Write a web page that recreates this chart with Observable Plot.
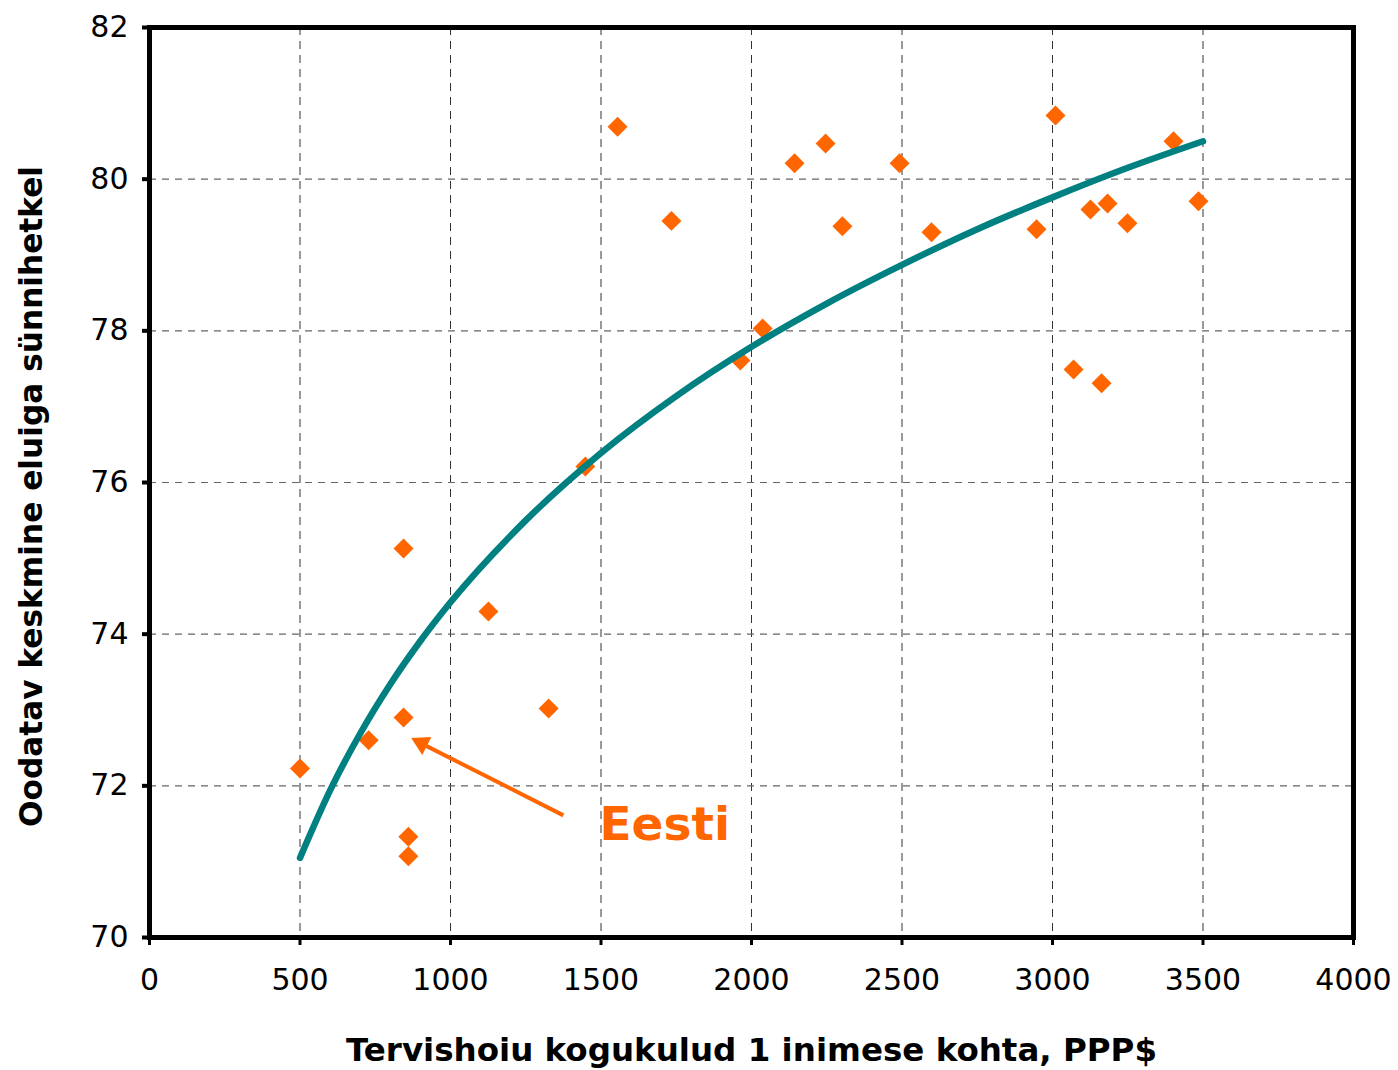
<!DOCTYPE html>
<html>
<head>
<meta charset="utf-8">
<script src="https://cdn.jsdelivr.net/npm/d3@7"></script>
<script src="https://cdn.jsdelivr.net/npm/@observablehq/plot@0.6"></script>
<style>
  html, body { margin: 0; padding: 0; background: #ffffff; }
  #chart svg { display: block; }
</style>
</head>
<body>
<div id="chart"></div>
<script>
// ---- Data ----
// Health expenditure per capita (PPP$) and life expectancy at birth, one entry per country
const spending = [500, 728, 844, 844, 860, 860, 1126, 1326, 1448, 1555, 1734, 1963, 2037, 2143, 2246, 2302, 2492, 2598, 2947, 3010, 3070, 3126, 3163, 3183, 3249, 3402, 3485];
const lifeExpectancy = [72.23, 72.60, 75.13, 72.90, 71.33, 71.07, 74.30, 73.02, 76.21, 80.69, 79.45, 77.61, 78.03, 80.21, 80.47, 79.38, 80.21, 79.30, 79.34, 80.84, 77.49, 79.60, 77.31, 79.68, 79.42, 80.50, 79.71];

// Trend line (logarithmic fit)
const trendSpending = [500, 600, 700, 800, 900, 1000, 1250, 1500, 1750, 2000, 2250, 2500, 2750, 3000, 3250, 3500];
const trendLife     = [71.05, 71.94, 72.69, 73.34, 73.91, 74.42, 75.50, 76.39, 77.14, 77.79, 78.36, 78.87, 79.34, 79.76, 80.15, 80.50];

// Axes
const xTicks = [0, 500, 1000, 1500, 2000, 2500, 3000, 3500, 4000];
const yTicks = [70, 72, 74, 76, 78, 80, 82];
const xGrid = [500, 1000, 1500, 2000, 2500, 3000, 3500];
const yGrid = [72, 74, 76, 78, 80];
const xTitle = "Tervishoiu kogukulud 1 inimese kohta, PPP$";
const yTitle = "Oodatav keskmine eluiga sünnihetkel";

// Annotation (Estonia)
const annotationLabel = ["Eesti"];
const annotationLabelPos = [{x: 1495, y: 71.48}];
const arrowStart = [{x: 1375, y: 71.61}];
const arrowTip = [{x: 893, y: 72.58}];
const arrowHead = [{x: 904, y: 72.56}];

// ---- Build tables ----
const points = spending.map((x, i) => ({x, y: lifeExpectancy[i]}));
const trend = trendSpending.map((x, i) => ({x, y: trendLife[i]}));
const arrowLine = [{x1: arrowStart[0].x, y1: arrowStart[0].y, x2: arrowTip[0].x, y2: arrowTip[0].y}];

const ORANGE = "#FF6600";
const TEAL = "#008080";

const chart = Plot.plot({
  width: 1398,
  height: 1070,
  marginLeft: 149,
  marginRight: 45,
  marginTop: 27,
  marginBottom: 133,
  style: {fontFamily: "'DejaVu Sans', Verdana, sans-serif", fontSize: "30px", color: "#000", background: "#fff"},
  x: {domain: [0, 4000]},
  y: {domain: [70, 82]},
  marks: [
    Plot.ruleX(xGrid, {stroke: "#333", strokeWidth: 1, strokeDasharray: "8,6"}),
    Plot.ruleY(yGrid, {stroke: "#666", strokeWidth: 1.2, strokeDasharray: "7,6"}),
    Plot.dot(points, {x: "x", y: "y", symbol: "diamond2", r: 9, fill: ORANGE, stroke: "none"}),
    Plot.line(trend, {x: "x", y: "y", curve: "monotone-x", stroke: TEAL, strokeWidth: 6.5, strokeLinecap: "round", strokeLinejoin: "round"}),
    Plot.link(arrowLine, {x1: "x1", y1: "y1", x2: "x2", y2: "y2", stroke: ORANGE, strokeWidth: 4}),
    Plot.dot(arrowHead, {x: "x", y: "y", symbol: "triangle", r: 7.5, fill: ORANGE, stroke: "none", rotate: -63}),
    Plot.text(annotationLabel, {x: () => annotationLabelPos[0].x, y: () => annotationLabelPos[0].y, text: d => d, textAnchor: "start", lineAnchor: "middle", fill: ORANGE, fontWeight: "bold", fontSize: 47}),
    Plot.frame({stroke: "#000", strokeWidth: 5}),
    Plot.axisX({ticks: xTicks, tickFormat: d => String(d), tickSize: 8, tickPadding: 23, strokeWidth: 3, label: null, fontSize: 30}),
    Plot.axisY({ticks: yTicks, tickFormat: d => String(d), tickSize: 7, tickPadding: 14, strokeWidth: 4, label: null, fontSize: 30}),
    Plot.text([xTitle], {frameAnchor: "bottom", text: d => d, dy: 113, lineAnchor: "middle", textAnchor: "middle", fontWeight: "bold", fontSize: 32.5}),
    Plot.text([yTitle], {frameAnchor: "left", text: d => d, dx: -117, dy: 14, rotate: -90, lineAnchor: "middle", textAnchor: "middle", fontWeight: "bold", fontSize: 31.2})
  ]
});

document.getElementById("chart").appendChild(chart);
</script>
</body>
</html>
